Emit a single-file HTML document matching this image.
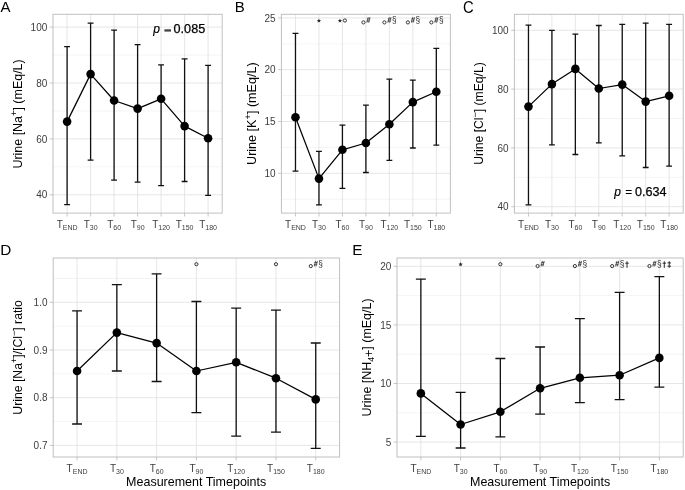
<!DOCTYPE html>
<html><head><meta charset="utf-8"><title>Figure</title>
<style>html,body{margin:0;padding:0;background:#fff;}svg{display:block;will-change:transform;}text{font-family:"Liberation Sans", sans-serif;}</style>
</head><body>
<svg width="685" height="490" viewBox="0 0 685 490" font-family='"Liberation Sans", sans-serif'>
<rect width="685" height="490" fill="#fff"/>
<line x1="53" y1="166.85" x2="222.2" y2="166.85" stroke="#ececec" stroke-width="0.6"/>
<line x1="53" y1="110.95" x2="222.2" y2="110.95" stroke="#ececec" stroke-width="0.6"/>
<line x1="53" y1="55.05" x2="222.2" y2="55.05" stroke="#ececec" stroke-width="0.6"/>
<line x1="53" y1="194.8" x2="222.2" y2="194.8" stroke="#e3e3e3" stroke-width="0.9"/>
<line x1="53" y1="138.9" x2="222.2" y2="138.9" stroke="#e3e3e3" stroke-width="0.9"/>
<line x1="53" y1="83" x2="222.2" y2="83" stroke="#e3e3e3" stroke-width="0.9"/>
<line x1="53" y1="27.1" x2="222.2" y2="27.1" stroke="#e3e3e3" stroke-width="0.9"/>
<line x1="67.1" y1="14.3" x2="67.1" y2="213.1" stroke="#e3e3e3" stroke-width="0.9"/>
<line x1="90.6" y1="14.3" x2="90.6" y2="213.1" stroke="#e3e3e3" stroke-width="0.9"/>
<line x1="114.1" y1="14.3" x2="114.1" y2="213.1" stroke="#e3e3e3" stroke-width="0.9"/>
<line x1="137.6" y1="14.3" x2="137.6" y2="213.1" stroke="#e3e3e3" stroke-width="0.9"/>
<line x1="161.1" y1="14.3" x2="161.1" y2="213.1" stroke="#e3e3e3" stroke-width="0.9"/>
<line x1="184.6" y1="14.3" x2="184.6" y2="213.1" stroke="#e3e3e3" stroke-width="0.9"/>
<line x1="208.1" y1="14.3" x2="208.1" y2="213.1" stroke="#e3e3e3" stroke-width="0.9"/>
<path d="M67.1 46.6V204.6M64.16 46.6H70.04M64.16 204.6H70.04M90.6 23.1V160.2M87.66 23.1H93.54M87.66 160.2H93.54M114.1 30.1V180.1M111.16 30.1H117.04M111.16 180.1H117.04M137.6 44.6V182.1M134.66 44.6H140.54M134.66 182.1H140.54M161.1 64.8V185.6M158.16 64.8H164.04M158.16 185.6H164.04M184.6 58.8V181.5M181.66 58.8H187.54M181.66 181.5H187.54M208.1 65.4V195.4M205.16 65.4H211.04M205.16 195.4H211.04" stroke="#111111" stroke-width="1.3" fill="none"/>
<polyline points="67.1,121.6 90.6,74.1 114.1,100.5 137.6,108.6 161.1,98.8 184.6,126.1 208.1,138.3" stroke="#000" stroke-width="1.25" fill="none" stroke-linejoin="round"/>
<circle cx="67.1" cy="121.6" r="4.3" fill="#000"/>
<circle cx="90.6" cy="74.1" r="4.3" fill="#000"/>
<circle cx="114.1" cy="100.5" r="4.3" fill="#000"/>
<circle cx="137.6" cy="108.6" r="4.3" fill="#000"/>
<circle cx="161.1" cy="98.8" r="4.3" fill="#000"/>
<circle cx="184.6" cy="126.1" r="4.3" fill="#000"/>
<circle cx="208.1" cy="138.3" r="4.3" fill="#000"/>
<rect x="53" y="14.3" width="169.2" height="198.8" fill="none" stroke="#c0c0c0" stroke-width="1.0"/>
<line x1="49.7" y1="194.8" x2="53" y2="194.8" stroke="#b8b8b8" stroke-width="0.8"/>
<text x="47.3" y="198.4" text-anchor="end" font-size="10" fill="#3d3d3d">40</text>
<line x1="49.7" y1="138.9" x2="53" y2="138.9" stroke="#b8b8b8" stroke-width="0.8"/>
<text x="47.3" y="142.5" text-anchor="end" font-size="10" fill="#3d3d3d">60</text>
<line x1="49.7" y1="83" x2="53" y2="83" stroke="#b8b8b8" stroke-width="0.8"/>
<text x="47.3" y="86.6" text-anchor="end" font-size="10" fill="#3d3d3d">80</text>
<line x1="49.7" y1="27.1" x2="53" y2="27.1" stroke="#b8b8b8" stroke-width="0.8"/>
<text x="47.3" y="30.7" text-anchor="end" font-size="10" fill="#3d3d3d">100</text>
<line x1="67.1" y1="213.1" x2="67.1" y2="216.5" stroke="#b8b8b8" stroke-width="0.8"/>
<text x="67.1" y="227.9" text-anchor="middle" font-size="10" fill="#3d3d3d">T<tspan font-size="7" dy="2">END</tspan></text>
<line x1="90.6" y1="213.1" x2="90.6" y2="216.5" stroke="#b8b8b8" stroke-width="0.8"/>
<text x="90.6" y="227.9" text-anchor="middle" font-size="10" fill="#3d3d3d">T<tspan font-size="7" dy="2">30</tspan></text>
<line x1="114.1" y1="213.1" x2="114.1" y2="216.5" stroke="#b8b8b8" stroke-width="0.8"/>
<text x="114.1" y="227.9" text-anchor="middle" font-size="10" fill="#3d3d3d">T<tspan font-size="7" dy="2">60</tspan></text>
<line x1="137.6" y1="213.1" x2="137.6" y2="216.5" stroke="#b8b8b8" stroke-width="0.8"/>
<text x="137.6" y="227.9" text-anchor="middle" font-size="10" fill="#3d3d3d">T<tspan font-size="7" dy="2">90</tspan></text>
<line x1="161.1" y1="213.1" x2="161.1" y2="216.5" stroke="#b8b8b8" stroke-width="0.8"/>
<text x="161.1" y="227.9" text-anchor="middle" font-size="10" fill="#3d3d3d">T<tspan font-size="7" dy="2">120</tspan></text>
<line x1="184.6" y1="213.1" x2="184.6" y2="216.5" stroke="#b8b8b8" stroke-width="0.8"/>
<text x="184.6" y="227.9" text-anchor="middle" font-size="10" fill="#3d3d3d">T<tspan font-size="7" dy="2">150</tspan></text>
<line x1="208.1" y1="213.1" x2="208.1" y2="216.5" stroke="#b8b8b8" stroke-width="0.8"/>
<text x="208.1" y="227.9" text-anchor="middle" font-size="10" fill="#3d3d3d">T<tspan font-size="7" dy="2">180</tspan></text>
<line x1="281.4" y1="199.2" x2="450.4" y2="199.2" stroke="#ececec" stroke-width="0.6"/>
<line x1="281.4" y1="147.4" x2="450.4" y2="147.4" stroke="#ececec" stroke-width="0.6"/>
<line x1="281.4" y1="95.6" x2="450.4" y2="95.6" stroke="#ececec" stroke-width="0.6"/>
<line x1="281.4" y1="43.8" x2="450.4" y2="43.8" stroke="#ececec" stroke-width="0.6"/>
<line x1="281.4" y1="173.3" x2="450.4" y2="173.3" stroke="#e3e3e3" stroke-width="0.9"/>
<line x1="281.4" y1="121.5" x2="450.4" y2="121.5" stroke="#e3e3e3" stroke-width="0.9"/>
<line x1="281.4" y1="69.7" x2="450.4" y2="69.7" stroke="#e3e3e3" stroke-width="0.9"/>
<line x1="281.4" y1="17.9" x2="450.4" y2="17.9" stroke="#e3e3e3" stroke-width="0.9"/>
<line x1="295.48" y1="14.3" x2="295.48" y2="213.1" stroke="#e3e3e3" stroke-width="0.9"/>
<line x1="318.96" y1="14.3" x2="318.96" y2="213.1" stroke="#e3e3e3" stroke-width="0.9"/>
<line x1="342.43" y1="14.3" x2="342.43" y2="213.1" stroke="#e3e3e3" stroke-width="0.9"/>
<line x1="365.9" y1="14.3" x2="365.9" y2="213.1" stroke="#e3e3e3" stroke-width="0.9"/>
<line x1="389.37" y1="14.3" x2="389.37" y2="213.1" stroke="#e3e3e3" stroke-width="0.9"/>
<line x1="412.84" y1="14.3" x2="412.84" y2="213.1" stroke="#e3e3e3" stroke-width="0.9"/>
<line x1="436.32" y1="14.3" x2="436.32" y2="213.1" stroke="#e3e3e3" stroke-width="0.9"/>
<path d="M295.48 33.4V171.1M292.55 33.4H298.42M292.55 171.1H298.42M318.96 151.4V204.8M316.02 151.4H321.89M316.02 204.8H321.89M342.43 125.1V188.4M339.49 125.1H345.36M339.49 188.4H345.36M365.9 105.1V172.5M362.97 105.1H368.83M362.97 172.5H368.83M389.37 79.1V160.3M386.44 79.1H392.31M386.44 160.3H392.31M412.84 80.1V148M409.91 80.1H415.78M409.91 148H415.78M436.32 48.4V145.1M433.38 48.4H439.25M433.38 145.1H439.25" stroke="#111111" stroke-width="1.3" fill="none"/>
<polyline points="295.48,117.2 318.96,178.6 342.43,149.8 365.9,143 389.37,124.3 412.84,102.1 436.32,91.8" stroke="#000" stroke-width="1.25" fill="none" stroke-linejoin="round"/>
<circle cx="295.48" cy="117.2" r="4.3" fill="#000"/>
<circle cx="318.96" cy="178.6" r="4.3" fill="#000"/>
<circle cx="342.43" cy="149.8" r="4.3" fill="#000"/>
<circle cx="365.9" cy="143" r="4.3" fill="#000"/>
<circle cx="389.37" cy="124.3" r="4.3" fill="#000"/>
<circle cx="412.84" cy="102.1" r="4.3" fill="#000"/>
<circle cx="436.32" cy="91.8" r="4.3" fill="#000"/>
<rect x="281.4" y="14.3" width="169" height="198.8" fill="none" stroke="#c0c0c0" stroke-width="1.0"/>
<line x1="278.1" y1="173.3" x2="281.4" y2="173.3" stroke="#b8b8b8" stroke-width="0.8"/>
<text x="275.7" y="176.9" text-anchor="end" font-size="10" fill="#3d3d3d">10</text>
<line x1="278.1" y1="121.5" x2="281.4" y2="121.5" stroke="#b8b8b8" stroke-width="0.8"/>
<text x="275.7" y="125.1" text-anchor="end" font-size="10" fill="#3d3d3d">15</text>
<line x1="278.1" y1="69.7" x2="281.4" y2="69.7" stroke="#b8b8b8" stroke-width="0.8"/>
<text x="275.7" y="73.3" text-anchor="end" font-size="10" fill="#3d3d3d">20</text>
<line x1="278.1" y1="17.9" x2="281.4" y2="17.9" stroke="#b8b8b8" stroke-width="0.8"/>
<text x="275.7" y="21.5" text-anchor="end" font-size="10" fill="#3d3d3d">25</text>
<line x1="295.48" y1="213.1" x2="295.48" y2="216.5" stroke="#b8b8b8" stroke-width="0.8"/>
<text x="295.48" y="227.9" text-anchor="middle" font-size="10" fill="#3d3d3d">T<tspan font-size="7" dy="2">END</tspan></text>
<line x1="318.96" y1="213.1" x2="318.96" y2="216.5" stroke="#b8b8b8" stroke-width="0.8"/>
<text x="318.96" y="227.9" text-anchor="middle" font-size="10" fill="#3d3d3d">T<tspan font-size="7" dy="2">30</tspan></text>
<line x1="342.43" y1="213.1" x2="342.43" y2="216.5" stroke="#b8b8b8" stroke-width="0.8"/>
<text x="342.43" y="227.9" text-anchor="middle" font-size="10" fill="#3d3d3d">T<tspan font-size="7" dy="2">60</tspan></text>
<line x1="365.9" y1="213.1" x2="365.9" y2="216.5" stroke="#b8b8b8" stroke-width="0.8"/>
<text x="365.9" y="227.9" text-anchor="middle" font-size="10" fill="#3d3d3d">T<tspan font-size="7" dy="2">90</tspan></text>
<line x1="389.37" y1="213.1" x2="389.37" y2="216.5" stroke="#b8b8b8" stroke-width="0.8"/>
<text x="389.37" y="227.9" text-anchor="middle" font-size="10" fill="#3d3d3d">T<tspan font-size="7" dy="2">120</tspan></text>
<line x1="412.84" y1="213.1" x2="412.84" y2="216.5" stroke="#b8b8b8" stroke-width="0.8"/>
<text x="412.84" y="227.9" text-anchor="middle" font-size="10" fill="#3d3d3d">T<tspan font-size="7" dy="2">150</tspan></text>
<line x1="436.32" y1="213.1" x2="436.32" y2="216.5" stroke="#b8b8b8" stroke-width="0.8"/>
<text x="436.32" y="227.9" text-anchor="middle" font-size="10" fill="#3d3d3d">T<tspan font-size="7" dy="2">180</tspan></text>
<line x1="514.4" y1="177.3" x2="683.2" y2="177.3" stroke="#ececec" stroke-width="0.6"/>
<line x1="514.4" y1="118.5" x2="683.2" y2="118.5" stroke="#ececec" stroke-width="0.6"/>
<line x1="514.4" y1="59.7" x2="683.2" y2="59.7" stroke="#ececec" stroke-width="0.6"/>
<line x1="514.4" y1="206.7" x2="683.2" y2="206.7" stroke="#e3e3e3" stroke-width="0.9"/>
<line x1="514.4" y1="147.9" x2="683.2" y2="147.9" stroke="#e3e3e3" stroke-width="0.9"/>
<line x1="514.4" y1="89.1" x2="683.2" y2="89.1" stroke="#e3e3e3" stroke-width="0.9"/>
<line x1="514.4" y1="30.3" x2="683.2" y2="30.3" stroke="#e3e3e3" stroke-width="0.9"/>
<line x1="528.47" y1="14.3" x2="528.47" y2="213.1" stroke="#e3e3e3" stroke-width="0.9"/>
<line x1="551.91" y1="14.3" x2="551.91" y2="213.1" stroke="#e3e3e3" stroke-width="0.9"/>
<line x1="575.36" y1="14.3" x2="575.36" y2="213.1" stroke="#e3e3e3" stroke-width="0.9"/>
<line x1="598.8" y1="14.3" x2="598.8" y2="213.1" stroke="#e3e3e3" stroke-width="0.9"/>
<line x1="622.24" y1="14.3" x2="622.24" y2="213.1" stroke="#e3e3e3" stroke-width="0.9"/>
<line x1="645.69" y1="14.3" x2="645.69" y2="213.1" stroke="#e3e3e3" stroke-width="0.9"/>
<line x1="669.13" y1="14.3" x2="669.13" y2="213.1" stroke="#e3e3e3" stroke-width="0.9"/>
<path d="M528.47 25.1V204.8M525.54 25.1H531.4M525.54 204.8H531.4M551.91 30.3V144.8M548.98 30.3H554.84M548.98 144.8H554.84M575.36 34.1V154.5M572.43 34.1H578.29M572.43 154.5H578.29M598.8 25.5V142.9M595.87 25.5H601.73M595.87 142.9H601.73M622.24 24.4V155.9M619.31 24.4H625.17M619.31 155.9H625.17M645.69 23.1V167.5M642.76 23.1H648.62M642.76 167.5H648.62M669.13 24.4V166.2M666.2 24.4H672.06M666.2 166.2H672.06" stroke="#111111" stroke-width="1.3" fill="none"/>
<polyline points="528.47,106.6 551.91,84.1 575.36,68.9 598.8,88.5 622.24,84.6 645.69,101.6 669.13,95.8" stroke="#000" stroke-width="1.25" fill="none" stroke-linejoin="round"/>
<circle cx="528.47" cy="106.6" r="4.3" fill="#000"/>
<circle cx="551.91" cy="84.1" r="4.3" fill="#000"/>
<circle cx="575.36" cy="68.9" r="4.3" fill="#000"/>
<circle cx="598.8" cy="88.5" r="4.3" fill="#000"/>
<circle cx="622.24" cy="84.6" r="4.3" fill="#000"/>
<circle cx="645.69" cy="101.6" r="4.3" fill="#000"/>
<circle cx="669.13" cy="95.8" r="4.3" fill="#000"/>
<rect x="514.4" y="14.3" width="168.8" height="198.8" fill="none" stroke="#c0c0c0" stroke-width="1.0"/>
<line x1="511.1" y1="206.7" x2="514.4" y2="206.7" stroke="#b8b8b8" stroke-width="0.8"/>
<text x="508.7" y="210.3" text-anchor="end" font-size="10" fill="#3d3d3d">40</text>
<line x1="511.1" y1="147.9" x2="514.4" y2="147.9" stroke="#b8b8b8" stroke-width="0.8"/>
<text x="508.7" y="151.5" text-anchor="end" font-size="10" fill="#3d3d3d">60</text>
<line x1="511.1" y1="89.1" x2="514.4" y2="89.1" stroke="#b8b8b8" stroke-width="0.8"/>
<text x="508.7" y="92.7" text-anchor="end" font-size="10" fill="#3d3d3d">80</text>
<line x1="511.1" y1="30.3" x2="514.4" y2="30.3" stroke="#b8b8b8" stroke-width="0.8"/>
<text x="508.7" y="33.9" text-anchor="end" font-size="10" fill="#3d3d3d">100</text>
<line x1="528.47" y1="213.1" x2="528.47" y2="216.5" stroke="#b8b8b8" stroke-width="0.8"/>
<text x="528.47" y="227.9" text-anchor="middle" font-size="10" fill="#3d3d3d">T<tspan font-size="7" dy="2">END</tspan></text>
<line x1="551.91" y1="213.1" x2="551.91" y2="216.5" stroke="#b8b8b8" stroke-width="0.8"/>
<text x="551.91" y="227.9" text-anchor="middle" font-size="10" fill="#3d3d3d">T<tspan font-size="7" dy="2">30</tspan></text>
<line x1="575.36" y1="213.1" x2="575.36" y2="216.5" stroke="#b8b8b8" stroke-width="0.8"/>
<text x="575.36" y="227.9" text-anchor="middle" font-size="10" fill="#3d3d3d">T<tspan font-size="7" dy="2">60</tspan></text>
<line x1="598.8" y1="213.1" x2="598.8" y2="216.5" stroke="#b8b8b8" stroke-width="0.8"/>
<text x="598.8" y="227.9" text-anchor="middle" font-size="10" fill="#3d3d3d">T<tspan font-size="7" dy="2">90</tspan></text>
<line x1="622.24" y1="213.1" x2="622.24" y2="216.5" stroke="#b8b8b8" stroke-width="0.8"/>
<text x="622.24" y="227.9" text-anchor="middle" font-size="10" fill="#3d3d3d">T<tspan font-size="7" dy="2">120</tspan></text>
<line x1="645.69" y1="213.1" x2="645.69" y2="216.5" stroke="#b8b8b8" stroke-width="0.8"/>
<text x="645.69" y="227.9" text-anchor="middle" font-size="10" fill="#3d3d3d">T<tspan font-size="7" dy="2">150</tspan></text>
<line x1="669.13" y1="213.1" x2="669.13" y2="216.5" stroke="#b8b8b8" stroke-width="0.8"/>
<text x="669.13" y="227.9" text-anchor="middle" font-size="10" fill="#3d3d3d">T<tspan font-size="7" dy="2">180</tspan></text>
<line x1="53.2" y1="421.55" x2="339.6" y2="421.55" stroke="#ececec" stroke-width="0.6"/>
<line x1="53.2" y1="373.85" x2="339.6" y2="373.85" stroke="#ececec" stroke-width="0.6"/>
<line x1="53.2" y1="326.15" x2="339.6" y2="326.15" stroke="#ececec" stroke-width="0.6"/>
<line x1="53.2" y1="278.45" x2="339.6" y2="278.45" stroke="#ececec" stroke-width="0.6"/>
<line x1="53.2" y1="445.4" x2="339.6" y2="445.4" stroke="#e3e3e3" stroke-width="0.9"/>
<line x1="53.2" y1="397.7" x2="339.6" y2="397.7" stroke="#e3e3e3" stroke-width="0.9"/>
<line x1="53.2" y1="350" x2="339.6" y2="350" stroke="#e3e3e3" stroke-width="0.9"/>
<line x1="53.2" y1="302.3" x2="339.6" y2="302.3" stroke="#e3e3e3" stroke-width="0.9"/>
<line x1="77.07" y1="258" x2="77.07" y2="457" stroke="#e3e3e3" stroke-width="0.9"/>
<line x1="116.84" y1="258" x2="116.84" y2="457" stroke="#e3e3e3" stroke-width="0.9"/>
<line x1="156.62" y1="258" x2="156.62" y2="457" stroke="#e3e3e3" stroke-width="0.9"/>
<line x1="196.4" y1="258" x2="196.4" y2="457" stroke="#e3e3e3" stroke-width="0.9"/>
<line x1="236.18" y1="258" x2="236.18" y2="457" stroke="#e3e3e3" stroke-width="0.9"/>
<line x1="275.96" y1="258" x2="275.96" y2="457" stroke="#e3e3e3" stroke-width="0.9"/>
<line x1="315.73" y1="258" x2="315.73" y2="457" stroke="#e3e3e3" stroke-width="0.9"/>
<path d="M77.07 310.8V424M72.09 310.8H82.04M72.09 424H82.04M116.84 284.6V371M111.87 284.6H121.82M111.87 371H121.82M156.62 273.8V381.5M151.65 273.8H161.59M151.65 381.5H161.59M196.4 301.5V412.7M191.43 301.5H201.37M191.43 412.7H201.37M236.18 308.1V436.2M231.21 308.1H241.15M231.21 436.2H241.15M275.96 310.2V432.2M270.98 310.2H280.93M270.98 432.2H280.93M315.73 343V448.4M310.76 343H320.71M310.76 448.4H320.71" stroke="#111111" stroke-width="1.3" fill="none"/>
<polyline points="77.07,371 116.84,332.6 156.62,343.1 196.4,371 236.18,362.3 275.96,378.2 315.73,399.4" stroke="#000" stroke-width="1.25" fill="none" stroke-linejoin="round"/>
<circle cx="77.07" cy="371" r="4.3" fill="#000"/>
<circle cx="116.84" cy="332.6" r="4.3" fill="#000"/>
<circle cx="156.62" cy="343.1" r="4.3" fill="#000"/>
<circle cx="196.4" cy="371" r="4.3" fill="#000"/>
<circle cx="236.18" cy="362.3" r="4.3" fill="#000"/>
<circle cx="275.96" cy="378.2" r="4.3" fill="#000"/>
<circle cx="315.73" cy="399.4" r="4.3" fill="#000"/>
<rect x="53.2" y="258" width="286.4" height="199" fill="none" stroke="#c0c0c0" stroke-width="1.0"/>
<line x1="49.9" y1="445.4" x2="53.2" y2="445.4" stroke="#b8b8b8" stroke-width="0.8"/>
<text x="47.5" y="449" text-anchor="end" font-size="10" fill="#3d3d3d">0.7</text>
<line x1="49.9" y1="397.7" x2="53.2" y2="397.7" stroke="#b8b8b8" stroke-width="0.8"/>
<text x="47.5" y="401.3" text-anchor="end" font-size="10" fill="#3d3d3d">0.8</text>
<line x1="49.9" y1="350" x2="53.2" y2="350" stroke="#b8b8b8" stroke-width="0.8"/>
<text x="47.5" y="353.6" text-anchor="end" font-size="10" fill="#3d3d3d">0.9</text>
<line x1="49.9" y1="302.3" x2="53.2" y2="302.3" stroke="#b8b8b8" stroke-width="0.8"/>
<text x="47.5" y="305.9" text-anchor="end" font-size="10" fill="#3d3d3d">1.0</text>
<line x1="77.07" y1="457" x2="77.07" y2="460.4" stroke="#b8b8b8" stroke-width="0.8"/>
<text x="77.07" y="471.8" text-anchor="middle" font-size="10" fill="#3d3d3d">T<tspan font-size="7" dy="2">END</tspan></text>
<line x1="116.84" y1="457" x2="116.84" y2="460.4" stroke="#b8b8b8" stroke-width="0.8"/>
<text x="116.84" y="471.8" text-anchor="middle" font-size="10" fill="#3d3d3d">T<tspan font-size="7" dy="2">30</tspan></text>
<line x1="156.62" y1="457" x2="156.62" y2="460.4" stroke="#b8b8b8" stroke-width="0.8"/>
<text x="156.62" y="471.8" text-anchor="middle" font-size="10" fill="#3d3d3d">T<tspan font-size="7" dy="2">60</tspan></text>
<line x1="196.4" y1="457" x2="196.4" y2="460.4" stroke="#b8b8b8" stroke-width="0.8"/>
<text x="196.4" y="471.8" text-anchor="middle" font-size="10" fill="#3d3d3d">T<tspan font-size="7" dy="2">90</tspan></text>
<line x1="236.18" y1="457" x2="236.18" y2="460.4" stroke="#b8b8b8" stroke-width="0.8"/>
<text x="236.18" y="471.8" text-anchor="middle" font-size="10" fill="#3d3d3d">T<tspan font-size="7" dy="2">120</tspan></text>
<line x1="275.96" y1="457" x2="275.96" y2="460.4" stroke="#b8b8b8" stroke-width="0.8"/>
<text x="275.96" y="471.8" text-anchor="middle" font-size="10" fill="#3d3d3d">T<tspan font-size="7" dy="2">150</tspan></text>
<line x1="315.73" y1="457" x2="315.73" y2="460.4" stroke="#b8b8b8" stroke-width="0.8"/>
<text x="315.73" y="471.8" text-anchor="middle" font-size="10" fill="#3d3d3d">T<tspan font-size="7" dy="2">180</tspan></text>
<line x1="397" y1="412.8" x2="683.2" y2="412.8" stroke="#ececec" stroke-width="0.6"/>
<line x1="397" y1="354.2" x2="683.2" y2="354.2" stroke="#ececec" stroke-width="0.6"/>
<line x1="397" y1="295.6" x2="683.2" y2="295.6" stroke="#ececec" stroke-width="0.6"/>
<line x1="397" y1="442.1" x2="683.2" y2="442.1" stroke="#e3e3e3" stroke-width="0.9"/>
<line x1="397" y1="383.5" x2="683.2" y2="383.5" stroke="#e3e3e3" stroke-width="0.9"/>
<line x1="397" y1="324.9" x2="683.2" y2="324.9" stroke="#e3e3e3" stroke-width="0.9"/>
<line x1="397" y1="266.3" x2="683.2" y2="266.3" stroke="#e3e3e3" stroke-width="0.9"/>
<line x1="420.85" y1="258" x2="420.85" y2="457" stroke="#e3e3e3" stroke-width="0.9"/>
<line x1="460.6" y1="258" x2="460.6" y2="457" stroke="#e3e3e3" stroke-width="0.9"/>
<line x1="500.35" y1="258" x2="500.35" y2="457" stroke="#e3e3e3" stroke-width="0.9"/>
<line x1="540.1" y1="258" x2="540.1" y2="457" stroke="#e3e3e3" stroke-width="0.9"/>
<line x1="579.85" y1="258" x2="579.85" y2="457" stroke="#e3e3e3" stroke-width="0.9"/>
<line x1="619.6" y1="258" x2="619.6" y2="457" stroke="#e3e3e3" stroke-width="0.9"/>
<line x1="659.35" y1="258" x2="659.35" y2="457" stroke="#e3e3e3" stroke-width="0.9"/>
<path d="M420.85 279.1V436.4M415.88 279.1H425.82M415.88 436.4H425.82M460.6 392.3V448M455.63 392.3H465.57M455.63 448H465.57M500.35 358.5V436.8M495.38 358.5H505.32M495.38 436.8H505.32M540.1 347V414.2M535.13 347H545.07M535.13 414.2H545.07M579.85 318.6V402.6M574.88 318.6H584.82M574.88 402.6H584.82M619.6 292.3V399.7M614.63 292.3H624.57M614.63 399.7H624.57M659.35 276.6V387.2M654.38 276.6H664.32M654.38 387.2H664.32" stroke="#111111" stroke-width="1.3" fill="none"/>
<polyline points="420.85,393.4 460.6,424.5 500.35,411.8 540.1,388.3 579.85,377.8 619.6,375.2 659.35,357.9" stroke="#000" stroke-width="1.25" fill="none" stroke-linejoin="round"/>
<circle cx="420.85" cy="393.4" r="4.3" fill="#000"/>
<circle cx="460.6" cy="424.5" r="4.3" fill="#000"/>
<circle cx="500.35" cy="411.8" r="4.3" fill="#000"/>
<circle cx="540.1" cy="388.3" r="4.3" fill="#000"/>
<circle cx="579.85" cy="377.8" r="4.3" fill="#000"/>
<circle cx="619.6" cy="375.2" r="4.3" fill="#000"/>
<circle cx="659.35" cy="357.9" r="4.3" fill="#000"/>
<rect x="397" y="258" width="286.2" height="199" fill="none" stroke="#c0c0c0" stroke-width="1.0"/>
<line x1="393.7" y1="442.1" x2="397" y2="442.1" stroke="#b8b8b8" stroke-width="0.8"/>
<text x="391.3" y="445.7" text-anchor="end" font-size="10" fill="#3d3d3d">5</text>
<line x1="393.7" y1="383.5" x2="397" y2="383.5" stroke="#b8b8b8" stroke-width="0.8"/>
<text x="391.3" y="387.1" text-anchor="end" font-size="10" fill="#3d3d3d">10</text>
<line x1="393.7" y1="324.9" x2="397" y2="324.9" stroke="#b8b8b8" stroke-width="0.8"/>
<text x="391.3" y="328.5" text-anchor="end" font-size="10" fill="#3d3d3d">15</text>
<line x1="393.7" y1="266.3" x2="397" y2="266.3" stroke="#b8b8b8" stroke-width="0.8"/>
<text x="391.3" y="269.9" text-anchor="end" font-size="10" fill="#3d3d3d">20</text>
<line x1="420.85" y1="457" x2="420.85" y2="460.4" stroke="#b8b8b8" stroke-width="0.8"/>
<text x="420.85" y="471.8" text-anchor="middle" font-size="10" fill="#3d3d3d">T<tspan font-size="7" dy="2">END</tspan></text>
<line x1="460.6" y1="457" x2="460.6" y2="460.4" stroke="#b8b8b8" stroke-width="0.8"/>
<text x="460.6" y="471.8" text-anchor="middle" font-size="10" fill="#3d3d3d">T<tspan font-size="7" dy="2">30</tspan></text>
<line x1="500.35" y1="457" x2="500.35" y2="460.4" stroke="#b8b8b8" stroke-width="0.8"/>
<text x="500.35" y="471.8" text-anchor="middle" font-size="10" fill="#3d3d3d">T<tspan font-size="7" dy="2">60</tspan></text>
<line x1="540.1" y1="457" x2="540.1" y2="460.4" stroke="#b8b8b8" stroke-width="0.8"/>
<text x="540.1" y="471.8" text-anchor="middle" font-size="10" fill="#3d3d3d">T<tspan font-size="7" dy="2">90</tspan></text>
<line x1="579.85" y1="457" x2="579.85" y2="460.4" stroke="#b8b8b8" stroke-width="0.8"/>
<text x="579.85" y="471.8" text-anchor="middle" font-size="10" fill="#3d3d3d">T<tspan font-size="7" dy="2">120</tspan></text>
<line x1="619.6" y1="457" x2="619.6" y2="460.4" stroke="#b8b8b8" stroke-width="0.8"/>
<text x="619.6" y="471.8" text-anchor="middle" font-size="10" fill="#3d3d3d">T<tspan font-size="7" dy="2">150</tspan></text>
<line x1="659.35" y1="457" x2="659.35" y2="460.4" stroke="#b8b8b8" stroke-width="0.8"/>
<text x="659.35" y="471.8" text-anchor="middle" font-size="10" fill="#3d3d3d">T<tspan font-size="7" dy="2">180</tspan></text>
<polygon points="318.96,18.4 319.54,19.89 321.14,19.99 319.91,21.01 320.31,22.56 318.96,21.7 317.6,22.56 318,21.01 316.77,19.99 318.37,19.89" fill="#2b2b2b"/>
<polygon points="339.95,18.4 340.54,19.89 342.14,19.99 340.9,21.01 341.3,22.56 339.95,21.7 338.6,22.56 339,21.01 337.77,19.99 339.36,19.89" fill="#2b2b2b"/>
<circle cx="344.9" cy="20.5" r="1.6" fill="none" stroke="#2b2b2b" stroke-width="0.95"/>
<circle cx="363.42" cy="22.4" r="1.6" fill="none" stroke="#2b2b2b" stroke-width="0.95"/>
<path d="M368.27 17.2L366.88 22.7M369.97 17.2L368.57 22.7M366.88 18.95H370.27M366.48 21.05H369.88" stroke="#3a3a3a" stroke-width="0.8" fill="none"/>
<circle cx="384.42" cy="22.4" r="1.6" fill="none" stroke="#2b2b2b" stroke-width="0.95"/>
<path d="M389.27 17.2L387.87 22.7M390.97 17.2L389.57 22.7M387.87 18.95H391.27M387.47 21.05H390.87" stroke="#3a3a3a" stroke-width="0.8" fill="none"/>
<text x="394.32" y="23" text-anchor="middle" font-size="8.3" fill="#2b2b2b">§</text>
<circle cx="407.89" cy="22.4" r="1.6" fill="none" stroke="#2b2b2b" stroke-width="0.95"/>
<path d="M412.74 17.2L411.34 22.7M414.44 17.2L413.04 22.7M411.34 18.95H414.74M410.94 21.05H414.34" stroke="#3a3a3a" stroke-width="0.8" fill="none"/>
<text x="417.79" y="23" text-anchor="middle" font-size="8.3" fill="#2b2b2b">§</text>
<circle cx="431.37" cy="22.4" r="1.6" fill="none" stroke="#2b2b2b" stroke-width="0.95"/>
<path d="M436.22 17.2L434.82 22.7M437.92 17.2L436.52 22.7M434.82 18.95H438.22M434.42 21.05H437.82" stroke="#3a3a3a" stroke-width="0.8" fill="none"/>
<text x="441.27" y="23" text-anchor="middle" font-size="8.3" fill="#2b2b2b">§</text>
<circle cx="196.4" cy="264.2" r="1.6" fill="none" stroke="#2b2b2b" stroke-width="0.95"/>
<circle cx="275.96" cy="264.2" r="1.6" fill="none" stroke="#2b2b2b" stroke-width="0.95"/>
<circle cx="310.78" cy="266.1" r="1.6" fill="none" stroke="#2b2b2b" stroke-width="0.95"/>
<path d="M315.63 260.9L314.23 266.4M317.33 260.9L315.93 266.4M314.23 262.65H317.63M313.83 264.75H317.23" stroke="#3a3a3a" stroke-width="0.8" fill="none"/>
<text x="320.68" y="266.7" text-anchor="middle" font-size="8.3" fill="#2b2b2b">§</text>
<polygon points="460.6,262.1 461.19,263.59 462.79,263.69 461.55,264.71 461.95,266.26 460.6,265.4 459.25,266.26 459.65,264.71 458.41,263.69 460.01,263.59" fill="#2b2b2b"/>
<circle cx="500.35" cy="264.2" r="1.6" fill="none" stroke="#2b2b2b" stroke-width="0.95"/>
<circle cx="537.62" cy="266.1" r="1.6" fill="none" stroke="#2b2b2b" stroke-width="0.95"/>
<path d="M542.48 260.9L541.08 266.4M544.18 260.9L542.77 266.4M541.08 262.65H544.48M540.68 264.75H544.08" stroke="#3a3a3a" stroke-width="0.8" fill="none"/>
<circle cx="574.9" cy="266.1" r="1.6" fill="none" stroke="#2b2b2b" stroke-width="0.95"/>
<path d="M579.75 260.9L578.35 266.4M581.45 260.9L580.05 266.4M578.35 262.65H581.75M577.95 264.75H581.35" stroke="#3a3a3a" stroke-width="0.8" fill="none"/>
<text x="584.8" y="266.7" text-anchor="middle" font-size="8.3" fill="#2b2b2b">§</text>
<circle cx="612.18" cy="266.1" r="1.6" fill="none" stroke="#2b2b2b" stroke-width="0.95"/>
<path d="M617.03 260.9L615.62 266.4M618.73 260.9L617.32 266.4M615.62 262.65H619.02M615.23 264.75H618.62" stroke="#3a3a3a" stroke-width="0.8" fill="none"/>
<text x="622.08" y="266.7" text-anchor="middle" font-size="8.3" fill="#2b2b2b">§</text>
<path d="M627.02 261.3V267.8M625.32 263.2H628.73" stroke="#2b2b2b" stroke-width="1.0" fill="none"/>
<circle cx="649.45" cy="266.1" r="1.6" fill="none" stroke="#2b2b2b" stroke-width="0.95"/>
<path d="M654.3 260.9L652.9 266.4M656 260.9L654.6 266.4M652.9 262.65H656.3M652.5 264.75H655.9" stroke="#3a3a3a" stroke-width="0.8" fill="none"/>
<text x="659.35" y="266.7" text-anchor="middle" font-size="8.3" fill="#2b2b2b">§</text>
<path d="M664.3 261.3V267.8M662.6 263.2H666" stroke="#2b2b2b" stroke-width="1.0" fill="none"/>
<path d="M669.25 261.3V267.8M667.55 262.9H670.95M667.55 266.2H670.95" stroke="#2b2b2b" stroke-width="1.0" fill="none"/>
<text x="153.2" y="33.0" font-size="12" fill="#000" stroke="#000" stroke-width="0.2"><tspan font-style="italic">p</tspan></text>
<rect x="164.4" y="29.3" width="6.6" height="2.3" fill="#444"/>
<text x="173.6" y="32.5" font-size="12" fill="#000" stroke="#000" stroke-width="0.25" textLength="31.6" lengthAdjust="spacingAndGlyphs">0.085</text>
<text x="614.3" y="196.1" font-size="12" fill="#000" stroke="#000" stroke-width="0.2"><tspan font-style="italic">p</tspan></text>
<text x="625.2" y="196.1" font-size="12" fill="#000">=</text>
<text x="634.9" y="196.1" font-size="12" fill="#000" stroke="#000" stroke-width="0.25" textLength="31.6" lengthAdjust="spacingAndGlyphs">0.634</text>
<text x="0.6" y="12.2" font-size="15" fill="#000">A</text>
<text x="234.8" y="12.2" font-size="15" fill="#000">B</text>
<text transform="translate(462.9 12.75) scale(0.9 1)" x="0" y="0" font-size="16.4" fill="#000">C</text>
<text x="0.2" y="255.3" font-size="15.3" fill="#000">D</text>
<text x="352.3" y="255.4" font-size="15.3" fill="#000">E</text>
<text transform="translate(22.4 113.95) rotate(-90)" x="0" y="0" text-anchor="middle" font-size="12.2" fill="#000" textLength="109.3" lengthAdjust="spacingAndGlyphs">Urine [Na<tspan font-size="9" dy="-5.2">+</tspan><tspan dy="5.2">] (mEq/L)</tspan></text>
<text transform="translate(255.9 113.65) rotate(-90)" x="0" y="0" text-anchor="middle" font-size="12.2" fill="#000" textLength="102.6" lengthAdjust="spacingAndGlyphs">Urine [K<tspan font-size="9" dy="-5.2">+</tspan><tspan dy="5.2">] (mEq/L)</tspan></text>
<text transform="translate(483.1 113.5) rotate(-90)" x="0" y="0" text-anchor="middle" font-size="12.2" fill="#000" textLength="102.5" lengthAdjust="spacingAndGlyphs">Urine [Cl<tspan font-size="9" dy="-5.2">−</tspan><tspan dy="5.2">] (mEq/L)</tspan></text>
<text transform="translate(21.9 357.4) rotate(-90)" x="0" y="0" text-anchor="middle" font-size="12.2" fill="#000" textLength="114.6" lengthAdjust="spacingAndGlyphs">Urine [Na<tspan font-size="9" dy="-5.2">+</tspan><tspan dy="5.2">]/[Cl</tspan><tspan font-size="9" dy="-5.2">−</tspan><tspan dy="5.2">] ratio</tspan></text>
<text transform="translate(371.2 357.45) rotate(-90)" x="0" y="0" text-anchor="middle" font-size="12.2" fill="#000" textLength="118.0" lengthAdjust="spacingAndGlyphs">Urine [NH<tspan font-size="8.5" dy="2.6">4</tspan><tspan dy="-1.0">+</tspan><tspan dy="-1.6">] (mEq/L)</tspan></text>
<text x="196.2" y="486.1" text-anchor="middle" font-size="12.2" fill="#000" textLength="140.2" lengthAdjust="spacingAndGlyphs">Measurement Timepoints</text>
<text x="540.1" y="486.1" text-anchor="middle" font-size="12.2" fill="#000" textLength="140.2" lengthAdjust="spacingAndGlyphs">Measurement Timepoints</text>
</svg>
</body></html>
